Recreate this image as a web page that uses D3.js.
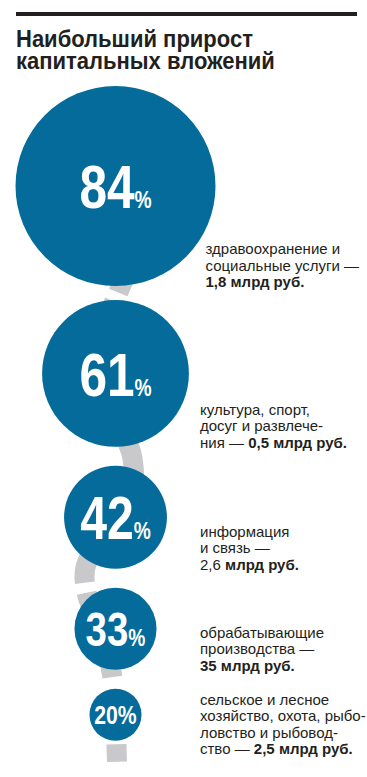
<!DOCTYPE html>
<html>
<head>
<meta charset="utf-8">
<script src="https://cdnjs.cloudflare.com/ajax/libs/d3/7.8.5/d3.min.js"></script>
<style>
  body { margin: 0; background: #fff; }
  svg { display: block; }
</style>
</head>
<body>
<div id="chart"></div>
<script>
// Title
var titleLines = ["Наибольший прирост", "капитальных вложений"];

// Growth of capital investment, %
var growth = [84, 61, 42, 33, 20];

// Sector labels, one entry per line; **...** is bold
var sectorLines = [
    ["здравоохранение и", "социальные услуги —", "**1,8 млрд руб.**"],
    ["культура, спорт,", "досуг и развлече-", "ния — **0,5 млрд руб.**"],
    ["информация", "и связь —", "2,6 **млрд руб.**"],
    ["обрабатывающие", "производства —", "**35 млрд руб.**"],
    ["сельское и лесное", "хозяйство, охота, рыбо-", "ловство и рыбовод-", "ство — **2,5 млрд руб.**"]
];

var W = 367, H = 777;
var blue = "#046b9a", grey = "#c9c9cb", ink = "#231f20";
var font = "'Liberation Sans', Arial, Helvetica, sans-serif";

var svg = d3.select("#chart").append("svg")
    .attr("width", W)
    .attr("height", H);

// Top rule
svg.append("rect")
    .attr("x", 16).attr("y", 12)
    .attr("width", 341).attr("height", 4)
    .attr("fill", ink);

// Title (one text block, squeezed to the reference width)
var title = svg.append("text")
    .attr("font-family", font)
    .attr("font-weight", "bold")
    .attr("font-size", "24px")
    .attr("fill", ink);
title.selectAll("tspan")
    .data(titleLines)
    .enter()
    .append("tspan")
    .attr("x", 0)
    .attr("y", function(d, i) { return i * 21.5; })
    .text(function(d) { return d; });
var firstW = title.select("tspan").node().getComputedTextLength();
title.attr("transform", "translate(16,47) scale(" + (237 / firstW) + ",1)");

// Circle size follows the growth value
var rScale = d3.scaleLinear().domain([20, 84]).range([26, 100]);
var cx = 115.5, top0 = 86;
var gaps = [0, 14, 19, 19, 19];

var nodes = [];
var yCursor = top0;
growth.forEach(function(v, i) {
    var rad = rScale(v);
    yCursor += gaps[i];
    nodes.push({value: v, r: rad, cx: cx, cy: yCursor + rad, lines: sectorLines[i]});
    yCursor += 2 * rad;
});

// Grey dashed thread behind the circles, anchored to circles: [index, dx, dy]
var threadAnchors = [
    [0, 40, 34], [0, 2.5, 107],
    [1, -20, -8], [1, 17, 85],
    [2, 14, -12], [2, -14, 20], [2, -30, 50], [2, -29, 75],
    [3, -12, 10], [3, -3.5, 46],
    [4, 0, 8], [4, 1.5, 47]
];
var threadPts = threadAnchors.map(function(a) {
    var n = nodes[a[0]];
    return [n.cx + a[1], n.cy + a[2]];
});
var thread = svg.append("path")
    .attr("d", d3.line().curve(d3.curveCatmullRom.alpha(0.5))(threadPts))
    .attr("fill", "none")
    .attr("stroke", grey)
    .attr("stroke-width", 20);

// dash breaks where the thread peeks out between circles
var tn = thread.node();
var total = tn.getTotalLength();
function lengthAtY(y) {
    for (var l = 0; l < total; l += 0.5) {
        if (tn.getPointAtLength(l).y >= y) return l;
    }
    return total;
}
var cuts = [
    lengthAtY(nodes[0].cy + nodes[0].r + 6),
    lengthAtY(nodes[2].cy + nodes[2].r + 14),
    lengthAtY(nodes[3].cy + nodes[3].r + 7),
    lengthAtY(nodes[4].cy + nodes[4].r + 3)
];
var gapLen = 10;
var dashes = [
    cuts[0], gapLen,
    cuts[1] - cuts[0] - gapLen, gapLen,
    cuts[2] - cuts[1] - gapLen, cuts[3] - cuts[2],
    total - cuts[3] + 1
];
thread.attr("stroke-dasharray", dashes.join(" "));

// Circles
svg.selectAll("circle.bubble")
    .data(nodes)
    .enter()
    .append("circle")
    .attr("class", "bubble")
    .attr("cx", function(d) { return d.cx; })
    .attr("cy", function(d) { return d.cy; })
    .attr("r", function(d) { return d.r; })
    .attr("fill", blue);

// Percent numbers
function digitSize(d) { return d.r >= 30 ? Math.min(62, d.r * 1.17) : d.r * 1.02; }
function pctSize(d) { return d.r >= 30 ? 24 : digitSize(d); }

var num = svg.selectAll("text.num")
    .data(nodes)
    .enter()
    .append("text")
    .attr("class", "num")
    .attr("transform", function(d) {
        return "translate(" + d.cx + "," + (d.cy + 0.358 * digitSize(d)) + ") scale(0.8,1)";
    })
    .attr("text-anchor", "middle")
    .attr("font-family", font)
    .attr("font-weight", "bold")
    .attr("fill", "#fff");
num.append("tspan")
    .attr("font-size", function(d) { return digitSize(d) + "px"; })
    .text(function(d) { return d.value; });
num.append("tspan")
    .attr("font-size", function(d) { return pctSize(d) + "px"; })
    .text("%");

// Sector labels
var lh = 16.5;
nodes.forEach(function(d) {
    var n = d.lines.length;
    var x = Math.max(200, d.cx + d.r - 10);
    var y0 = Math.max(d.cy + d.r + 1 - (n - 1) * lh, d.cy - 10);
    var t = svg.append("text")
        .attr("x", x).attr("y", y0)
        .attr("font-family", font)
        .attr("font-size", "15px")
        .attr("fill", ink);
    d.lines.forEach(function(line, j) {
        var first = true;
        line.split("**").forEach(function(part, k) {
            if (!part) return;
            var ts = t.append("tspan")
                .attr("font-weight", k % 2 ? "bold" : "normal")
                .text(part);
            if (first) {
                ts.attr("x", x).attr("y", y0 + j * lh);
                first = false;
            }
        });
    });
});
</script>
</body>
</html>
